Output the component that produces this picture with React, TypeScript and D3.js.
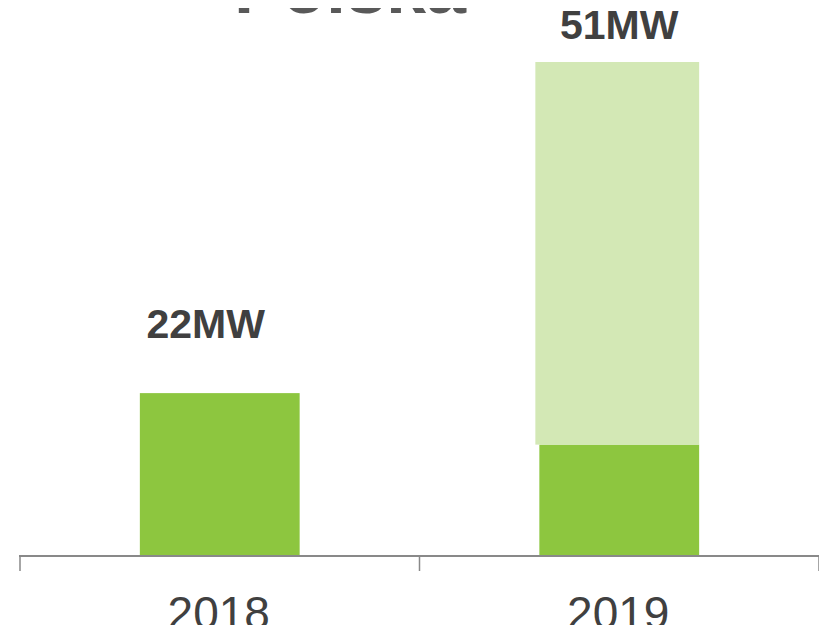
import { useEffect, useRef } from 'react'
import * as d3 from 'd3'

const years = ['2018', '2019']
const baseValues = [22, 15]
const addedValues = [0, 52]
const totalLabels = ['22MW', '51MW']
const title = 'Polska'

const W = 827
const H = 633

export default function App() {
  const svgRef = useRef<SVGSVGElement>(null)

  useEffect(() => {
    if (!svgRef.current) return
    const svg = d3.select(svgRef.current)
    svg.selectAll('*').remove()

    const axisY = 555
    const x = d3.scaleBand<string>().domain(years).range([20, 819]).padding(0)
    const y = d3.scaleLinear().domain([0, 67]).range([axisY, 62])
    const barW = x.bandwidth() * 0.4
    const font = 'Liberation Sans, Arial, sans-serif'

    // Title (cut off at the top)
    svg.append('text').attr('x', 350).attr('y', 13)
      .attr('fill', '#595959').attr('font-size', '72px').attr('font-weight', '700')
      .attr('font-family', font)
      .attr('text-anchor', 'middle').text(title)

    years.forEach((yr, i) => {
      const cx = (x(yr) ?? 0) + x.bandwidth() / 2
      const bx = cx - barW / 2
      const base = baseValues[i]
      const added = addedValues[i]

      svg.append('rect')
        .attr('x', bx).attr('y', y(base))
        .attr('width', barW).attr('height', y(0) - y(base))
        .attr('fill', '#8DC63F')

      if (added > 0) {
        svg.append('rect')
          .attr('x', bx - 4).attr('y', y(base + added))
          .attr('width', barW + 4).attr('height', y(base) - y(base + added))
          .attr('fill', '#D3E8B5')
      }

      // Total label above each bar
      const top = y(base + added)
      svg.append('text')
        .attr('x', i === 0 ? cx - 14 : cx).attr('y', top - (i === 0 ? 55 : 23))
        .attr('fill', '#404040').attr('font-size', '41px').attr('font-weight', '700')
        .attr('font-family', font)
        .attr('text-anchor', 'middle').text(totalLabels[i])

      svg.append('text')
        .attr('x', cx - 1).attr('y', 629)
        .attr('fill', '#404040').attr('font-size', '46px')
        .attr('font-family', font)
        .attr('text-anchor', 'middle').text(yr)
    })

    // Category axis
    const g = svg.append('g').attr('transform', `translate(0,${axisY + 1})`)
    g.append('line').attr('x1', 19).attr('x2', 820).attr('y1', 0).attr('y2', 0)
      .attr('stroke', '#898989').attr('stroke-width', 2)
    const edges = [...years.map(yr => x(yr) ?? 0), x.range()[1]]
    edges.forEach(ex => {
      g.append('line').attr('x1', ex).attr('x2', ex).attr('y1', 0).attr('y2', 15)
        .attr('stroke', '#898989').attr('stroke-width', 1.5)
    })
  }, [])

  return (
    <div style={{ margin: -8 }}>
      <svg ref={svgRef} width={W} height={H} style={{ display: 'block' }} />
    </div>
  )
}
